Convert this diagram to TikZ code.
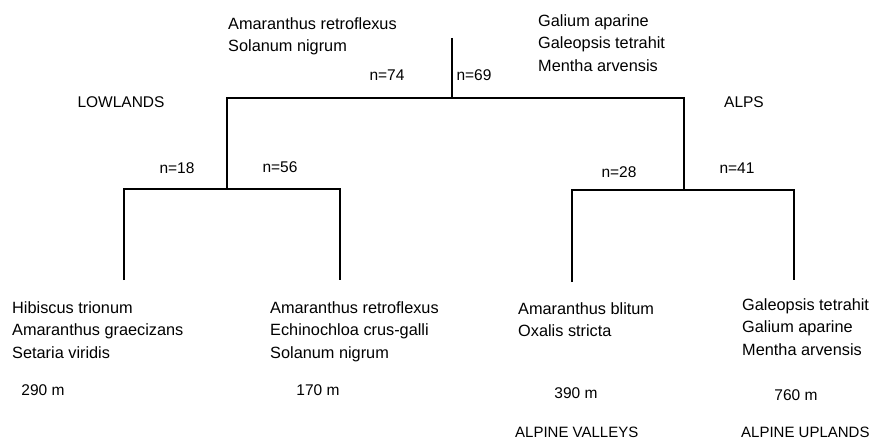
\documentclass[tikz,border=0pt]{standalone}
\usepackage{fontspec}
\setmainfont{Liberation Sans}
\begin{document}
\begin{tikzpicture}[x=1pt, y=-1pt,
    lbl/.style={inner sep=0pt, font=\fontsize{15.5}{22.5}\selectfont},
    spec/.style={lbl, align=left, anchor=north west, font=\fontsize{16.3}{22.5}\selectfont},
    zone/.style={lbl, anchor=west, font=\fontsize{15}{18}\selectfont},
    branch/.style={line width=1.2pt}]
    \useasboundingbox (0,0) rectangle (872,444);

    % junction points of the tree
    \coordinate (top) at (452,38);
    \coordinate (root) at (452,98);
    \coordinate (low) at (227,98);
    \coordinate (alp) at (684,98);
    \coordinate (lowj) at (227,189);
    \coordinate (alpj) at (684,190);
    \coordinate (l1) at (124,189);
    \coordinate (l1b) at (124,280);
    \coordinate (l2) at (340,189);
    \coordinate (l2b) at (340,280);
    \coordinate (a1) at (572,190);
    \coordinate (a1b) at (572,282);
    \coordinate (a2) at (794,190);
    \coordinate (a2b) at (794,280);

    % branches
    \draw[branch] (top) -- (root);
    \draw[branch] (lowj) -- (low) -- (alp) -- (alpj);
    \draw[branch] (l1b) -- (l1) -- (l2) -- (l2b);
    \draw[branch] (a1b) -- (a1) -- (a2) -- (a2b);

    % top species and group sizes
    \node[spec] (toplow) at (228,17) {Amaranthus retroflexus\\Solanum nigrum};
    \node[spec] (topalp) at (538,14) {Galium aparine\\Galeopsis tetrahit\\Mentha arvensis};
    \node[lbl] (n74) at (387,75) {n=74};
    \node[lbl] (n69) at (474,75) {n=69};

    % regions
    \node[lbl] (lowlands) at (121,102) {LOWLANDS};
    \node[lbl] (alps) at (744,102) {ALPS};

    % subgroup sizes
    \node[lbl] (n18) at (177,168) {n=18};
    \node[lbl] (n56) at (280,167) {n=56};
    \node[lbl] (n28) at (619,172) {n=28};
    \node[lbl] (n41) at (737,168) {n=41};

    % leaves
    \node[spec] (leaf1) at (12,301) {Hibiscus trionum\\Amaranthus graecizans\\Setaria viridis};
    \node[spec] (leaf2) at (270,301) {Amaranthus retroflexus\\Echinochloa crus-galli\\Solanum nigrum};
    \node[spec] (leaf3) at (518,302) {Amaranthus blitum\\Oxalis stricta};
    \node[spec] (leaf4) at (742,298) {Galeopsis tetrahit\\Galium aparine\\Mentha arvensis};

    % altitudes
    \node[lbl] (alt1) at (43,390) {290 m};
    \node[lbl] (alt2) at (318,390) {170 m};
    \node[lbl] (alt3) at (576,393) {390 m};
    \node[lbl] (alt4) at (796,395) {760 m};

    % alpine zones
    \node[zone] (valleys) at (515,432) {ALPINE VALLEYS};
    \node[zone] (uplands) at (741,432) {ALPINE UPLANDS};
\end{tikzpicture}
\end{document}
